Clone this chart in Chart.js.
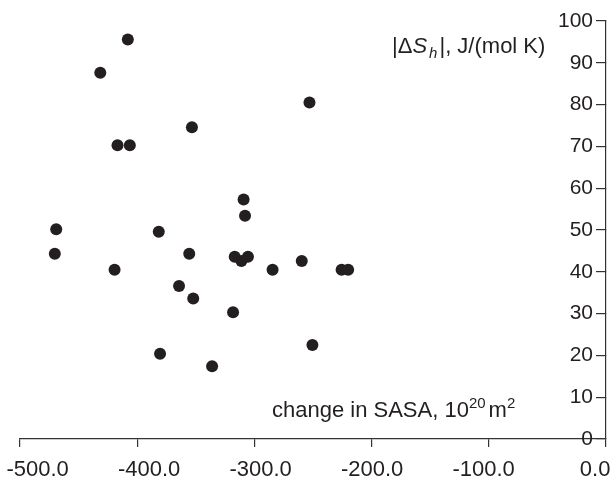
<!DOCTYPE html>
<html>
<head>
<meta charset="utf-8">
<script src="https://cdn.jsdelivr.net/npm/chart.js@4.4.1/dist/chart.umd.min.js"></script>
<style>
    html, body { margin: 0; padding: 0; background: #fff; }
    #wrap { width: 612px; height: 481px; position: relative; }
</style>
</head>
<body>
<div id="wrap"><canvas id="sasaChart"></canvas></div>
<script>
// change in solvent accessible surface area (10^20 m^2)
const sasaChange = [
    -408, -431.5, -253, -353.3, -416.8, -406.3,
    -309.2, -308, -469.1, -381.6, -470.3, -355.6,
    -316.8, -311.1, -305.5, -419.3, -284.5, -259.6,
    -225.6, -220, -364.3, -352.2, -318.2, -250.5,
    -336.1, -380.5
];
// |dS_h|, J/(mol K)
const entropyHyd = [
    95.6, 87.6, 80.5, 74.6, 70.3, 70.3,
    57.3, 53.4, 50.2, 49.6, 44.3, 44.3,
    43.6, 42.6, 43.6, 40.5, 40.5, 42.6,
    40.5, 40.5, 36.6, 33.6, 30.3, 22.5,
    17.4, 20.4
];
const xTicks = [-500, -400, -300, -200, -100, 0];
const yTicks = [0, 10, 20, 30, 40, 50, 60, 70, 80, 90, 100];

const ink = '#231f20';
const axisColor = '#333333';
const fontFamily = '"Liberation Sans", Arial, sans-serif';

// axis captions sit inside the plot area
const captions = {
    id: 'captions',
    afterDraw(chart) {
        const ctx = chart.ctx;
        ctx.save();
        ctx.fillStyle = ink;
        ctx.textBaseline = 'alphabetic';
        ctx.textAlign = 'left';

        // y caption: |ΔS_h|, J/(mol K)
        let x = 392, y = 53;
        const put = (txt, font, dy) => {
            ctx.font = font;
            ctx.fillText(txt, x, y + (dy || 0));
            x += ctx.measureText(txt).width;
        };
        put('|\u0394', '22px ' + fontFamily);
        put('S', 'italic 22px ' + fontFamily);
        x += 2;
        put('h', 'italic 15px ' + fontFamily, 5);
        x += 2;
        put('|, J/(mol K)', '22px ' + fontFamily);

        // x caption: change in SASA, 10^20 m^2
        x = 272; y = 417;
        put('change in SASA, 10', '22px ' + fontFamily);
        put('20', '15px ' + fontFamily, -9);
        x += 3;
        put('m', '22px ' + fontFamily);
        put('2', '15px ' + fontFamily, -9);
        ctx.restore();
    }
};

const sasaData = {
    datasets: [{
        data: sasaChange.map((v, i) => ({ x: v, y: entropyHyd[i] })),
        backgroundColor: ink,
        borderWidth: 0,
        pointRadius: 6,
        pointHoverRadius: 6
    }]
};

const sasaConfig = {
    type: 'scatter',
    data: sasaData,
    options: {
        responsive: true,
        maintainAspectRatio: false,
        animation: false,
        devicePixelRatio: 1,
        layout: {
            padding: { top: 21, left: 20, right: 0, bottom: 0 }
        },
        plugins: {
            legend: { display: false },
            tooltip: { enabled: false }
        },
        scales: {
            x: {
                type: 'linear',
                position: 'bottom',
                min: -500,
                max: 0,
                afterBuildTicks: (axis) => { axis.ticks = xTicks.map(v => ({ value: v })); },
                afterFit: (axis) => { axis.height = 8; axis.paddingLeft = 0; axis.paddingRight = 0; },
                ticks: { display: false },
                grid: {
                    drawOnChartArea: false,
                    drawTicks: true,
                    tickLength: 8,
                    color: axisColor,
                    lineWidth: 1.2
                },
                border: { color: axisColor, width: 1.2 }
            },
            // tick labels of the x axis
            xl: {
                type: 'linear',
                position: 'bottom',
                min: -515.8,
                max: 9.8,
                afterBuildTicks: (axis) => { axis.ticks = xTicks.map(v => ({ value: v })); },
                afterFit: (axis) => { axis.height = 34; axis.paddingLeft = 0; axis.paddingRight = 0; },
                ticks: {
                    color: ink,
                    font: { family: fontFamily, size: 22 },
                    padding: 10,
                    maxRotation: 0,
                    callback: (v) => v.toFixed(1)
                },
                grid: { display: false, drawTicks: false },
                border: { display: false }
            },
            y: {
                type: 'linear',
                position: 'right',
                min: 0,
                max: 100,
                afterBuildTicks: (axis) => { axis.ticks = yTicks.map(v => ({ value: v })); },
                afterFit: (axis) => { axis.width = 3; axis.paddingTop = 0; axis.paddingBottom = 0; },
                ticks: {
                    mirror: true,
                    color: ink,
                    font: { family: fontFamily, size: 21 },
                    padding: -13
                },
                grid: {
                    drawOnChartArea: false,
                    drawTicks: true,
                    tickLength: -10,
                    color: axisColor,
                    lineWidth: 1.2
                },
                border: { color: axisColor, width: 1.2 }
            }
        }
    },
    plugins: [captions]
};

const sasaChart = new Chart(document.getElementById('sasaChart'), sasaConfig);
</script>
</body>
</html>
